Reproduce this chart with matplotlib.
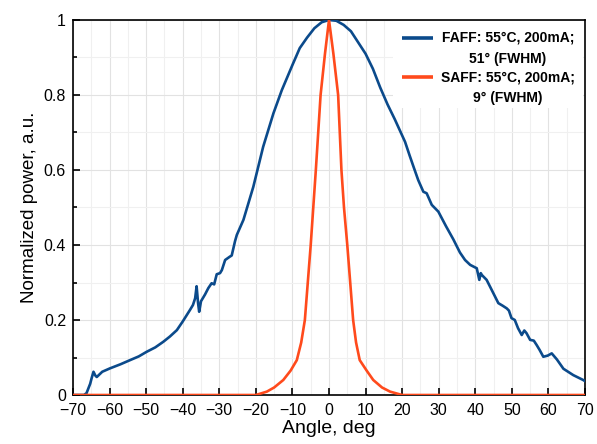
import matplotlib
matplotlib.use("Agg")
import matplotlib.pyplot as plt
from matplotlib.patches import Rectangle
from matplotlib.ticker import MultipleLocator, FuncFormatter

plt.rcParams['font.family'] = ['Liberation Sans', 'DejaVu Sans']

# FAFF: fast-axis far field
faff_angle = [-70, -67, -66.3, -65.3, -64.9, -64.4, -63.9, -63.5, -62, -59.9, -57, -54.4, -52,
              -49.9, -47.5, -45.3, -43.5, -41.6, -40, -38.0, -37.2, -36.6, -36.2, -35.8, -35.5,
              -35.0, -33.9, -33.0, -32.1, -31.4, -30.7, -29.8, -29.3, -28.4, -27.1, -26.6, -25.7,
              -25.2, -23.4, -20.7, -18.0, -15.2, -12.9, -10, -8, -6, -4, -2, 0, 2, 4, 6, 8, 10,
              12, 14, 16, 18, 20.8, 22, 23.1, 24.4, 25.8, 26.7, 28.1, 29.9, 32, 34, 35.8, 37.2,
              38.6, 40.4, 41.1, 41.5, 41.8, 43.1, 44.5, 46.3, 47.5, 48.6, 49.2, 49.9, 50.8, 51.7,
              52.7, 53.4, 54.0, 55.0, 56.0, 56.8, 57.6, 58.6, 59.8, 60.9, 62.3, 64.1, 66.8, 69.5, 70]
faff_power = [0.0, 0.0, 0.005, 0.03, 0.045, 0.062, 0.052, 0.048, 0.062, 0.071, 0.082, 0.093, 0.103,
              0.115, 0.127, 0.142, 0.156, 0.173, 0.196, 0.227, 0.24, 0.258, 0.29, 0.245, 0.222,
              0.25, 0.268, 0.285, 0.298, 0.295, 0.322, 0.325, 0.333, 0.36, 0.369, 0.372, 0.41,
              0.427, 0.467, 0.555, 0.662, 0.751, 0.813, 0.88, 0.925, 0.953, 0.978, 0.994, 1.0,
              0.998, 0.987, 0.97, 0.94, 0.91, 0.87, 0.82, 0.775, 0.735, 0.675, 0.64, 0.609, 0.573,
              0.542, 0.538, 0.507, 0.489, 0.45, 0.415, 0.38, 0.36, 0.347, 0.338, 0.307, 0.325,
              0.32, 0.307, 0.28, 0.245, 0.238, 0.231, 0.225, 0.205, 0.2, 0.178, 0.16, 0.172, 0.165,
              0.147, 0.145, 0.133, 0.12, 0.102, 0.105, 0.111, 0.095, 0.07, 0.053, 0.04, 0.037]

# SAFF: slow-axis far field
saff_angle = [-70, -20, -17, -15, -12.5, -10.5, -8.8, -7.6, -6.6, -5.0, -4.3, -3.6, -2.3, -1.1, 0,
              1.2, 2.5, 3.4, 4.1, 5.0, 6.6, 7.4, 8.4, 10.3, 12.1, 14.5, 16.7, 20, 70]
saff_power = [0.0, 0.0, 0.009, 0.02, 0.04, 0.065, 0.093, 0.14, 0.2, 0.4, 0.5, 0.6, 0.8, 0.91, 1.0,
              0.91, 0.8, 0.6, 0.5, 0.4, 0.2, 0.14, 0.093, 0.065, 0.04, 0.02, 0.009, 0.0, 0.0]

series_labels = [["FAFF: 55°C, 200mA;", "51° (FWHM)"],
                 ["SAFF: 55°C, 200mA;", "9° (FWHM)"]]
series_colors = ['#0B4A8B', '#FF4A1C']

fig = plt.figure(figsize=(5.97, 4.44), dpi=100)
ax = fig.add_axes([73/597, 49/444, 512/597, 375/444])

ax.plot(faff_angle, faff_power, color=series_colors[0], lw=1.9, zorder=3)
ax.plot(saff_angle, saff_power, color=series_colors[1], lw=1.9, zorder=3)

ax.set_xlim(-70, 70)
ax.set_ylim(0, 1)
ax.xaxis.set_major_locator(MultipleLocator(10))
ax.xaxis.set_minor_locator(MultipleLocator(5))
ax.yaxis.set_major_locator(MultipleLocator(0.2))
ax.yaxis.set_minor_locator(MultipleLocator(0.1))
ax.yaxis.set_major_formatter(FuncFormatter(lambda v, p: f"{v:g}"))

ax.grid(which='major', color='#e2e2e2', lw=0.8)
ax.grid(which='minor', color='#f0f0f0', lw=0.8)
ax.set_axisbelow(True)

ax.tick_params(which='both', direction='in', top=False, right=False, labelsize=11.5, width=1.2)
ax.tick_params(which='major', length=5)
ax.tick_params(axis='x', which='major', pad=6)
ax.tick_params(axis='y', which='major', pad=5)
ax.tick_params(which='minor', length=3)
ax.tick_params(axis='x', which='minor', length=0)
for s in ax.spines.values():
    s.set_linewidth(1.2)

ax.set_xlabel("Angle, deg", fontsize=14, labelpad=1)
ax.set_ylabel("Normalized power, a.u.", fontsize=13.5, labelpad=4)

# legend (drawn in axes coordinates, handle level with first label line)
ax.add_patch(Rectangle((0.625, 0.765), 0.372, 0.232, transform=ax.transAxes,
                       facecolor='white', edgecolor='none', zorder=4))
entry_y = [0.952, 0.848]
line_gap = 0.056
for (l1, l2), col, yy in zip(series_labels, series_colors, entry_y):
    ax.plot([0.6426, 0.703], [yy, yy], transform=ax.transAxes, color=col, lw=2.6,
            zorder=5, solid_capstyle='butt')
    ax.text(0.8496, yy, l1, transform=ax.transAxes, ha='center', va='center',
            fontsize=10, fontweight='bold', zorder=5)
    ax.text(0.8496, yy - line_gap, l2, transform=ax.transAxes, ha='center', va='center',
            fontsize=10, fontweight='bold', zorder=5)

fig.savefig("out.png", dpi=100)
